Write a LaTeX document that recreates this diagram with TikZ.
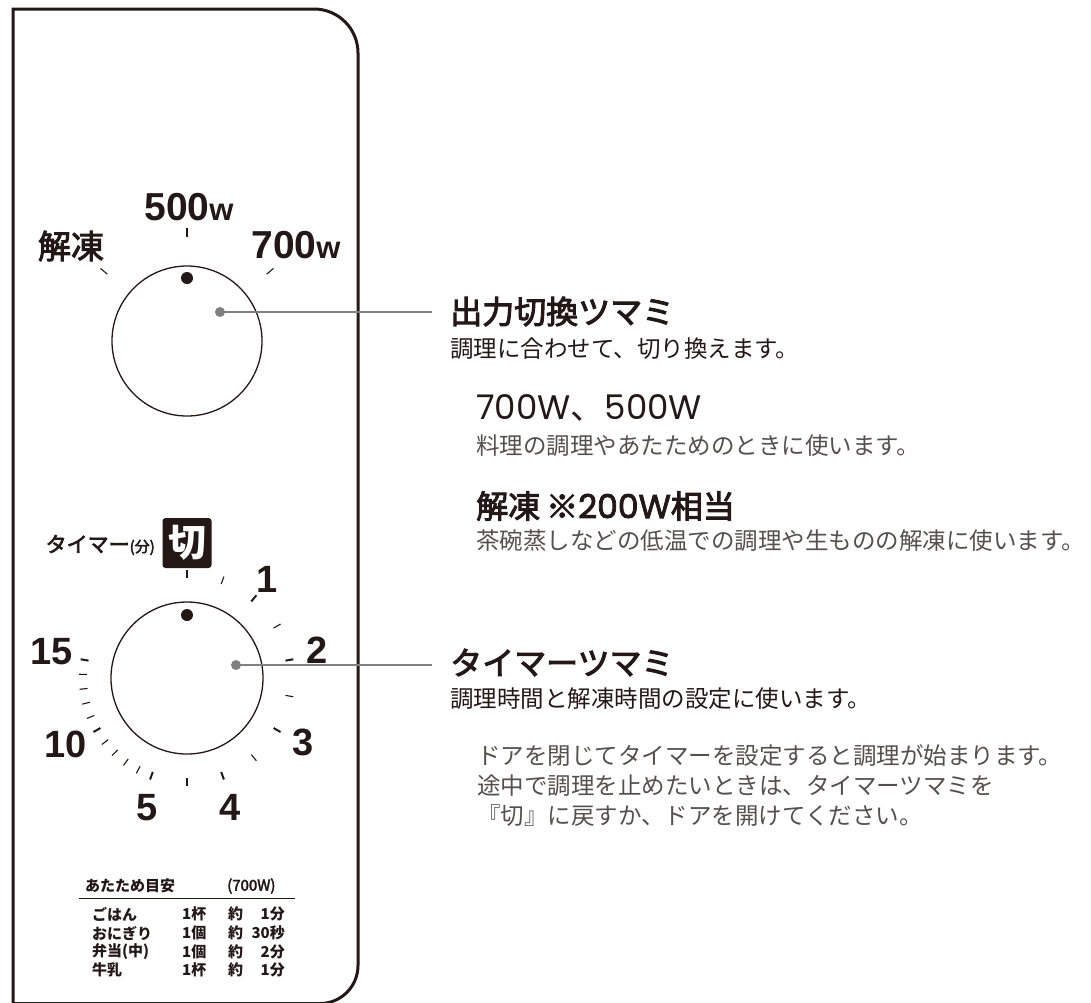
\documentclass[tikz,border=0pt]{standalone}
\usepackage{fontspec}
\setmainfont{Noto Sans CJK JP}
\newfontfamily\medfont{Noto Sans CJK JP}[FakeBold=3]
\newfontfamily\numfont{Liberation Sans}
\newfontfamily\geofont{Poppins}
\newfontfamily\geomed{Poppins}[FakeBold=2.5]
\usepackage{tikz}
\usetikzlibrary{calc}
\usepackage{xcolor}
\definecolor{ink}{HTML}{231815}
\definecolor{soft}{HTML}{55504E}
\definecolor{lead}{HTML}{808080}
\newcommand\pxsize[1]{\fontsize{#1}{#1}\selectfont}

\begin{document}
\begin{tikzpicture}[x=1pt, y=1pt, every node/.style={inner sep=0pt, text=ink},
    dialtick/.style={ink, line width=1.1pt},
    majortick/.style={ink, line width=2pt},
    leader/.style={lead, line width=2.4pt},
    headtext/.style={anchor=west, font=\medfont\pxsize{32}},
    subtext/.style={anchor=west, font=\pxsize{23.5}},
    bodytext/.style={anchor=west, text=soft, font=\pxsize{23.5}},
    cell/.style={anchor=west, font=\bfseries\pxsize{15}}]
  \useasboundingbox (0,0) rectangle (1091,-1002);
  % panneau avant
  \draw[ink, line width=3pt] (13,-1003.5) -- (13,-9) -- (314,-9) arc[start angle=90, end angle=0, radius=44]
    -- (358,-965.5) arc[start angle=0, end angle=-90, radius=38] -- cycle;

  % bouton de puissance
  \coordinate (k1) at (187,-341); \coordinate (p1) at ($(k1)+(33,29)$); \coordinate (e1) at (432,-312);
  \draw[ink, line width=1.3pt] (k1) circle (75);
  \fill[ink] ($(k1)+(90:63)$) circle (6);
  \foreach \a in {40,90,140} \draw[dialtick] ($(k1)+(\a:104)$) -- ($(k1)+(\a:113)$);
  \node[font=\medfont\pxsize{33}] (defrost) at (71,-246) {解凍};
  \node[anchor=base, font=\numfont\bfseries] (w500) at (189,-220) {\pxsize{39}500\pxsize{31}w};
  \node[anchor=base, font=\numfont\bfseries] (w700) at (296,-258) {\pxsize{39}700\pxsize{31}w};
  \draw[leader] (p1) -- (e1);
  \fill[lead] (p1) circle (5);

  % minuterie
  \coordinate (k2) at (187,-678); \coordinate (p2) at ($(k2)+(49,13)$); \coordinate (e2) at (432,-665);
  \draw[ink, line width=1.3pt] (k2) circle (76);
  \fill[ink] ($(k2)+(90:63)$) circle (6);
  \foreach \a in {90,70,30,-10,-50,-90,-118,-126,-134,-142,-158,-166,-174,-182}
    \draw[dialtick] ($(k2)+(\a:100)$) -- ($(k2)+(\a:108)$);
  \foreach \a in {50,10,-30,-70,-110,-150,-190}
    \draw[majortick] ($(k2)+(\a:100)$) -- ($(k2)+(\a:108)$);
  \foreach \a/\rad/\t in {51/127/1, 12/133/2, -29/133/3, -71.5/136/4, -107/135/5, -151.4/138/10, -191/138/15}
    \node[font=\numfont\bfseries\pxsize{38}] (t\t) at ($(k2)+(\a:\rad)$) {\t};
  \node[fill=ink, text=white, rounded corners=3, minimum width=49, minimum height=50,
    font=\bfseries\pxsize{38}] (off) at (187,-543) {切};
  \node[anchor=east, font=\medfont\pxsize{21}] (tlabel) at (155,-545) {タイマー\pxsize{15}(分)};
  \draw[leader] (p2) -- (e2);
  \fill[lead] (p2) circle (5);

  % tableau
  \node[cell] (th1) at (85,-886) {あたため目安};
  \node[cell, font=\medfont\pxsize{15}] (th2) at (227,-886) {(700W)};
  \draw[ink, line width=0.8pt] (79,-898) -- (295,-898);
  \foreach \y/\item/\qty/\tm [count=\i] in {914/ごはん/1杯/1分, 933/おにぎり/1個/30秒, 952/弁当(中)/1個/2分, 970/牛乳/1杯/1分} {
    \node[cell] (food\i) at (92,-\y) {\item};
    \node[cell] (qty\i) at (182,-\y) {\qty};
    \node[cell] (abt\i) at (228,-\y) {約};
    \node[cell, anchor=east] (tm\i) at (285,-\y) {\tm};
  }

  % textes
  \node[headtext] (h1) at (450,-311.5) {出力切換ツマミ};
  \node[subtext] (s1) at (450,-349) {調理に合わせて、切り換えます。};
  \node[anchor=west, font=\geofont\pxsize{34}] (m1) at (476,-408) {700W{\rmfamily 、}500W};
  \node[bodytext] (d1) at (476,-446) {料理の調理やあたためのときに使います。};
  \node[anchor=west, font=\medfont\pxsize{32}] (m2) at (476,-506) {解凍\hspace{6pt}※{\geomed\pxsize{33}200W}相当};
  \node[bodytext] (d2) at (476,-541) {茶碗蒸しなどの低温での調理や生ものの解凍に使います。};
  \node[headtext] (h2) at (450,-662.5) {タイマーツマミ};
  \node[subtext] (s2) at (450,-699) {調理時間と解凍時間の設定に使います。};
  \node[bodytext] (d3) at (477,-756) {ドアを閉じてタイマーを設定すると調理が始まります。};
  \node[bodytext] (d4) at (477,-786) {途中で調理を止めたいときは、タイマーツマミを};
  \node[bodytext] (d5) at (477,-816) {『切』に戻すか、ドアを開けてください。};
\end{tikzpicture}
\end{document}
